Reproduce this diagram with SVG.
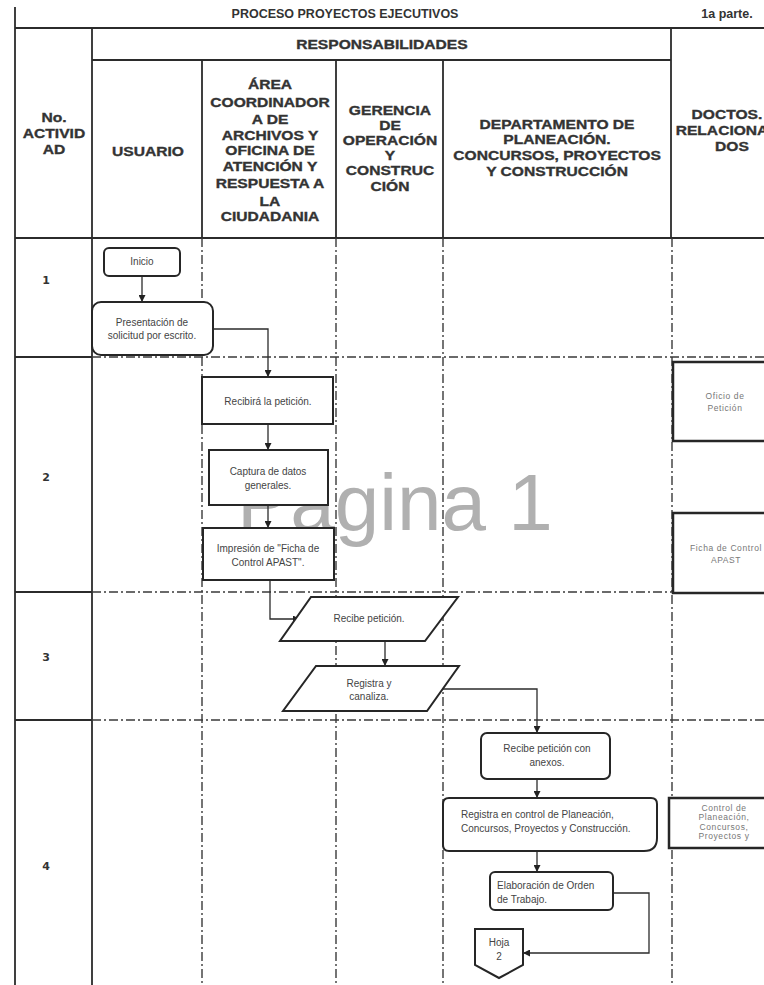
<svg xmlns="http://www.w3.org/2000/svg" width="764" height="985" viewBox="0 0 764 985">
<defs>
<style>
.grid{stroke:#2b2b2b;stroke-width:1.8;fill:none}
.dd{stroke:#3a3a3a;stroke-width:1.4;fill:none;stroke-dasharray:9 3 2 3}
.hd{font-family:"Liberation Sans",Arial,sans-serif;font-weight:bold;font-size:13px;fill:#333;stroke:#333;stroke-width:0.35;text-anchor:middle}
.tt{font-family:"Liberation Sans",Arial,sans-serif;font-weight:bold;font-size:12.5px;fill:#333;text-anchor:middle}
.node{fill:#fff;stroke:#262626;stroke-width:2}
.doc{fill:#fff;stroke:#262626;stroke-width:2.5}
.nt{font-family:"Liberation Sans",Arial,sans-serif;font-size:10px;fill:#444;text-anchor:middle}
.ntl{font-family:"Liberation Sans",Arial,sans-serif;font-size:10px;fill:#444}
.dt{font-family:"Liberation Sans",Arial,sans-serif;font-size:8.5px;letter-spacing:0.6px;fill:#777;text-anchor:middle}
.num{font-family:"DejaVu Sans",sans-serif;font-weight:bold;font-size:11px;fill:#333;text-anchor:middle}
.con{stroke:#2b2b2b;stroke-width:1.3;fill:none;marker-end:url(#ah)}
</style>
<marker id="ah" viewBox="0 0 10 10" refX="10" refY="5" markerWidth="7" markerHeight="7" markerUnits="userSpaceOnUse" orient="auto">
<path d="M0,0 L10,5 L0,10 Z" fill="#222"/>
</marker>
</defs>
<rect width="764" height="985" fill="#fff"/>

<g id="table">
<line class="grid" x1="15" y1="7" x2="15" y2="985"/>
<line class="grid" x1="15" y1="28" x2="764" y2="28"/>
<line class="grid" x1="92" y1="28" x2="92" y2="985"/>
<line class="grid" x1="92" y1="60" x2="671" y2="60"/>
<line class="grid" x1="671" y1="28" x2="671" y2="238"/>
<line class="grid" x1="202" y1="60" x2="202" y2="238"/>
<line class="grid" x1="336" y1="60" x2="336" y2="238"/>
<line class="grid" x1="443" y1="60" x2="443" y2="238"/>
<line class="grid" x1="15" y1="238" x2="764" y2="238"/>
<line class="grid" x1="15" y1="357" x2="92" y2="357"/>
<line class="grid" x1="15" y1="592" x2="92" y2="592"/>
<line class="grid" x1="15" y1="720" x2="92" y2="720"/>
<line class="dd" x1="92" y1="357" x2="764" y2="357"/>
<line class="dd" x1="92" y1="592" x2="764" y2="592"/>
<line class="dd" x1="92" y1="720" x2="764" y2="720"/>
<line class="dd" x1="202" y1="238" x2="202" y2="985"/>
<line class="dd" x1="336" y1="238" x2="336" y2="985"/>
<line class="dd" x1="443" y1="238" x2="443" y2="985"/>
<line class="dd" x1="672" y1="238" x2="672" y2="985"/>
</g>

<g id="titles">
<text class="tt" x="345" y="18">PROCESO PROYECTOS EJECUTIVOS</text>
<text class="tt" x="727" y="18">1a parte.</text>
<g transform="matrix(1.2 0 0 1 0 0)">
<text class="hd" x="318.3" y="49">RESPONSABILIDADES</text>
<text class="hd" x="45" y="122">No.</text>
<text class="hd" x="45" y="138">ACTIVID</text>
<text class="hd" x="45" y="154">AD</text>
<text class="hd" x="123.3" y="156">USUARIO</text>
<text class="hd" x="225" y="89">ÁREA</text>
<text class="hd" x="225" y="107">COORDINADOR</text>
<text class="hd" x="225" y="124">A DE</text>
<text class="hd" x="225" y="140">ARCHIVOS Y</text>
<text class="hd" x="225" y="155">OFICINA DE</text>
<text class="hd" x="225" y="171">ATENCIÓN Y</text>
<text class="hd" x="225" y="188">RESPUESTA A</text>
<text class="hd" x="225" y="206">LA</text>
<text class="hd" x="225" y="221">CIUDADANIA</text>
<text class="hd" x="325" y="115">GERENCIA</text>
<text class="hd" x="325" y="130">DE</text>
<text class="hd" x="325" y="145">OPERACIÓN</text>
<text class="hd" x="325" y="160">Y</text>
<text class="hd" x="325" y="175">CONSTRUC</text>
<text class="hd" x="325" y="191">CIÓN</text>
<text class="hd" x="464.2" y="129">DEPARTAMENTO DE</text>
<text class="hd" x="464.2" y="144">PLANEACIÓN.</text>
<text class="hd" x="464.2" y="160">CONCURSOS, PROYECTOS</text>
<text class="hd" x="464.2" y="176">Y CONSTRUCCIÓN</text>
<text class="hd" x="605.8" y="119">DOCTOS.</text>
<text class="hd" x="601.7" y="135">RELACIONA</text>
<text class="hd" x="610" y="151">DOS</text>
</g>
<text class="num" x="46" y="284">1</text>
<text class="num" x="46" y="481">2</text>
<text class="num" x="46" y="661">3</text>
<text class="num" x="46" y="870">4</text>
</g>

<text x="237" y="530" font-family="Liberation Sans, Arial, sans-serif" font-size="80" fill="#b0b0b0">Pagina 1</text>

<g id="connectors">
<line class="con" x1="142" y1="276" x2="142" y2="302"/>
<path class="con" d="M213,329 H268 V377"/>
<line class="con" x1="268" y1="424" x2="268" y2="450"/>
<line class="con" x1="268" y1="505" x2="268" y2="528"/>
<path class="con" d="M270,580 V619 H300"/>
<line class="con" x1="385" y1="641" x2="385" y2="666"/>
<path class="con" d="M443,689 H537 V733"/>
<line class="con" x1="537" y1="779" x2="537" y2="798"/>
<line class="con" x1="537" y1="851" x2="537" y2="872"/>
<path class="con" d="M613,893 H649 V953 H523"/>
</g>

<g id="n-inicio">
<rect class="node" x="104" y="248" width="76" height="28" rx="5"/>
<text class="nt" x="142" y="265">Inicio</text>
</g>
<g id="n-presentacion">
<rect class="node" x="92" y="302" width="121" height="53" rx="9"/>
<text class="nt" x="152" y="326" font-size="9">Presentación de</text>
<text class="nt" x="152" y="339" font-size="9">solicitud por escrito.</text>
</g>
<g id="n-recibira">
<rect class="node" x="202" y="377" width="131" height="47"/>
<text class="nt" x="268" y="405" font-size="10.5">Recibirá la petición.</text>
</g>
<g id="n-captura">
<rect class="node" x="209" y="450" width="119" height="55"/>
<text class="nt" x="268" y="475" font-size="10.5">Captura de datos</text>
<text class="nt" x="268" y="489" font-size="10.5">generales.</text>
</g>
<g id="n-impresion">
<rect class="node" x="203" y="528" width="131" height="52"/>
<text class="nt" x="268" y="552" font-size="10.5">Impresión de "Ficha de</text>
<text class="nt" x="268" y="566" font-size="10.5">Control APAST".</text>
</g>
<g id="n-recibe-peticion">
<polygon class="node" points="311,597 458,597 425,641 280,641"/>
<text class="nt" x="369" y="622" font-size="9.6">Recibe petición.</text>
</g>
<g id="n-registra-canaliza">
<polygon class="node" points="316,666 459,666 427,711 283,711"/>
<text class="nt" x="369" y="687" font-size="9.6">Registra y</text>
<text class="nt" x="369" y="700" font-size="9.6">canaliza.</text>
</g>
<g id="n-recibe-anexos">
<rect class="node" x="481" y="733" width="129" height="46" rx="6"/>
<text class="nt" x="547" y="752">Recibe petición con</text>
<text class="nt" x="547" y="766">anexos.</text>
</g>
<g id="n-registra-control">
<path class="node" d="M449,798 H651 Q657,798 657,804 V838 Q657,851 644,851 H449 Q443,851 443,845 V804 Q443,798 449,798 Z"/>
<text class="ntl" x="461" y="818">Registra en control de Planeación,</text>
<text class="ntl" x="461" y="832">Concursos, Proyectos y Construcción.</text>
</g>
<g id="n-elaboracion">
<rect class="node" x="490" y="872" width="123" height="38" rx="5"/>
<text class="ntl" x="497" y="889">Elaboración de Orden</text>
<text class="ntl" x="497" y="903">de Trabajo.</text>
</g>
<g id="n-hoja2">
<polygon class="node" points="475,929 523,929 523,965 499,978 475,965"/>
<text class="nt" x="499" y="946" font-size="9.5">Hoja</text>
<text class="nt" x="499" y="960" font-size="9.5">2</text>
</g>
<g id="d-oficio">
<rect class="doc" x="673" y="362" width="100" height="79"/>
<text class="dt" x="725" y="399">Oficio de</text>
<text class="dt" x="725" y="411">Petición</text>
</g>
<g id="d-ficha">
<rect class="doc" x="673" y="513" width="100" height="80"/>
<text class="dt" x="726" y="551">Ficha de Control</text>
<text class="dt" x="726" y="563">APAST</text>
</g>
<g id="d-control">
<rect class="doc" x="669" y="798" width="100" height="50"/>
<text class="dt" x="724" y="811" font-size="7">Control de</text>
<text class="dt" x="724" y="820" font-size="7">Planeación,</text>
<text class="dt" x="724" y="830" font-size="7">Concursos,</text>
<text class="dt" x="724" y="839" font-size="7">Proyectos y</text>
</g>
</svg>
